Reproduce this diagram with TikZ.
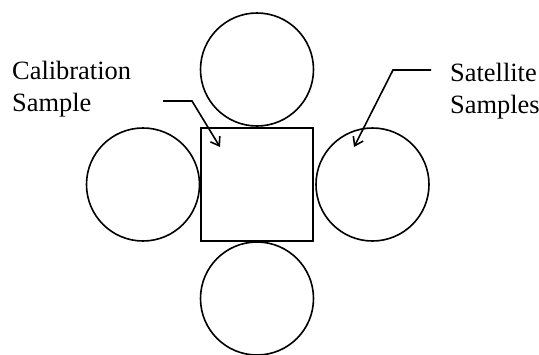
\documentclass[tikz,border=0pt]{standalone}
\usepackage{fontspec}
\setmainfont{Liberation Serif}
\usetikzlibrary{arrows.meta}
\begin{document}
\begin{tikzpicture}[x=1pt,y=-1pt,
  shapeline/.style={line width=1.6pt},
  samplecircle/.style={shapeline,draw,circle,minimum size=113pt,inner sep=0pt},
  label/.style={font=\fontsize{26.4}{31.7}\selectfont,align=left,inner sep=0pt,anchor=north west},
  pointer/.style={line width=1.6pt,-{Straight Barb[length=8pt,width=11pt,line width=1.6pt]}}]
\useasboundingbox (0,0) rectangle (539,354);
\node[shapeline,draw,minimum width=112pt,minimum height=113pt,inner sep=0pt] (sq) at (257,184.5) {};
\node[samplecircle] (top) at (257,69.5) {};
\node[samplecircle] (left) at (143,184.5) {};
\node[samplecircle] (right) at (372.5,184.5) {};
\node[samplecircle] (bottom) at (257,298.5) {};
\node[label] (calib) at (12,61) {Calibration\\Sample};
\node[label] (sat) at (450,63) {Satellite\\Samples};
\coordinate (c0) at (163,101);
\coordinate (c1) at (192,101);
\coordinate (c2) at (220,147);
\coordinate (s0) at (431,70);
\coordinate (s1) at (393,70);
\coordinate (s2) at (354,147);
\draw[pointer] (c0) -- (c1) -- (c2);
\draw[pointer] (s0) -- (s1) -- (s2);
\end{tikzpicture}
\end{document}
